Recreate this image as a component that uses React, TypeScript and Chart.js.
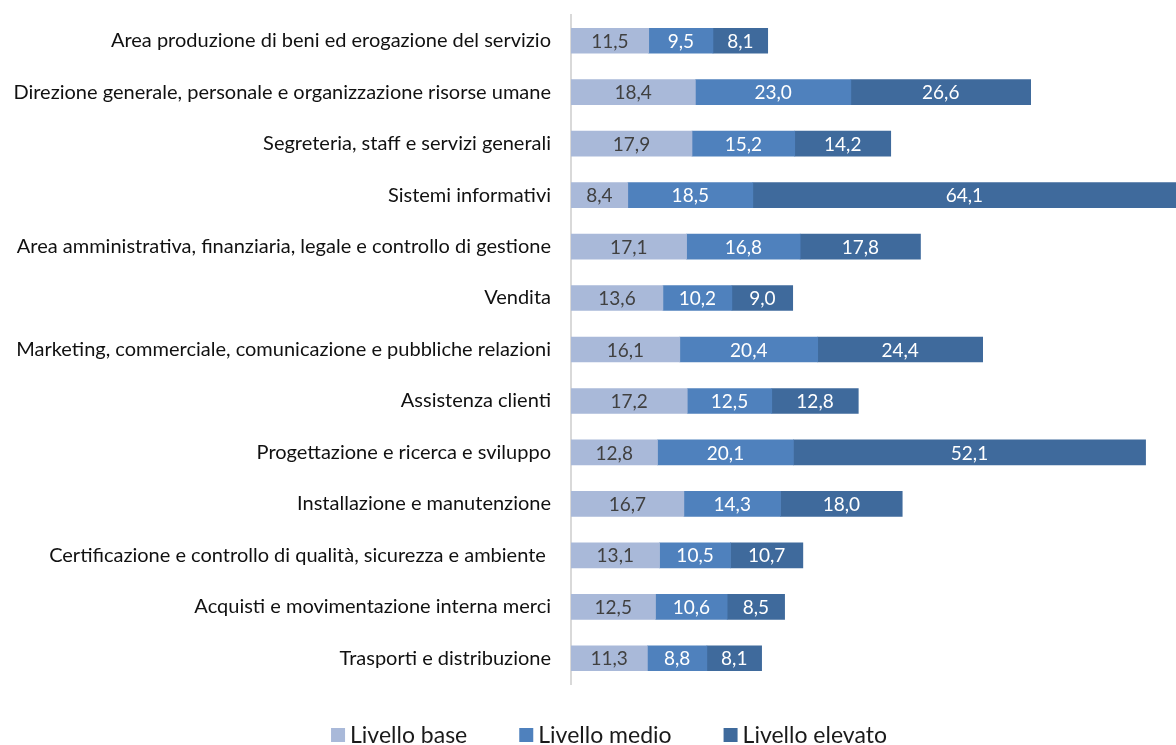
import React, { useEffect, useRef } from "react";
import { Chart, registerables } from "chart.js";

Chart.register(...registerables);

const categories = [
  "Area produzione di beni ed erogazione del servizio",
  "Direzione generale, personale e organizzazione risorse umane",
  "Segreteria, staff e servizi generali",
  "Sistemi informativi",
  "Area amministrativa, finanziaria, legale e controllo di gestione",
  "Vendita",
  "Marketing, commerciale, comunicazione e pubbliche relazioni",
  "Assistenza clienti",
  "Progettazione e ricerca e sviluppo",
  "Installazione e manutenzione",
  "Certificazione e controllo di qualità, sicurezza e ambiente ",
  "Acquisti e movimentazione interna merci",
  "Trasporti e distribuzione",
];

const livelloBase = [11.5, 18.4, 17.9, 8.4, 17.1, 13.6, 16.1, 17.2, 12.8, 16.7, 13.1, 12.5, 11.3];
const livelloMedio = [9.5, 23.0, 15.2, 18.5, 16.8, 10.2, 20.4, 12.5, 20.1, 14.3, 10.5, 10.6, 8.8];
const livelloElevato = [8.1, 26.6, 14.2, 64.1, 17.8, 9.0, 24.4, 12.8, 52.1, 18.0, 10.7, 8.5, 8.1];

const seriesNames = ["Livello base", "Livello medio", "Livello elevato"];
const seriesColors = ["#A9B9D9", "#4F81BD", "#3F6A9C"];
const labelColors = ["#404040", "#FFFFFF", "#FFFFFF"];

const FONT = "Lato, 'Open Sans', sans-serif";

const dataLabelPlugin = {
  id: "dataLabels",
  afterDatasetsDraw(chart: any) {
    const ctx = chart.ctx;
    const area = chart.chartArea;
    ctx.save();
    ctx.beginPath();
    ctx.rect(area.left, area.top, area.right - area.left, area.bottom - area.top);
    ctx.clip();
    ctx.font = `19px ${FONT}`;
    ctx.textAlign = "center";
    ctx.textBaseline = "middle";
    chart.data.datasets.forEach((ds: any, di: number) => {
      const meta = chart.getDatasetMeta(di);
      meta.data.forEach((bar: any, i: number) => {
        const v = ds.data[i];
        const left = Math.min(bar.base, bar.x);
        const right = Math.min(Math.max(bar.base, bar.x), area.right);
        const cx = (left + right) / 2;
        ctx.fillStyle = labelColors[di];
        ctx.fillText(v.toFixed(1).replace(".", ","), cx, bar.y + 1);
      });
    });
    ctx.restore();
  },
};

const legendPlugin = {
  id: "customLegend",
  afterDraw(chart: any) {
    const ctx = chart.ctx;
    ctx.save();
    ctx.font = `23px ${FONT}`;
    ctx.textBaseline = "middle";
    const box = 14;
    const gapBoxText = 5;
    const gapItems = 52;
    const widths = seriesNames.map((n) => box + gapBoxText + ctx.measureText(n).width);
    const total = widths.reduce((a, b) => a + b, 0) + gapItems * (widths.length - 1);
    let x = 609 - total / 2;
    const y = 735;
    seriesNames.forEach((n, i) => {
      ctx.fillStyle = seriesColors[i];
      ctx.fillRect(x, y - box / 2, box, box);
      ctx.fillStyle = "#1a1a1a";
      ctx.textAlign = "left";
      ctx.fillText(n, x + box + gapBoxText, y + 1);
      x += widths[i] + gapItems;
    });
    ctx.restore();
  },
};

export default function App() {
  const ref = useRef<HTMLCanvasElement>(null);

  useEffect(() => {
    if (!ref.current) return;
    const values = [livelloBase, livelloMedio, livelloElevato];
    const chart = new Chart(ref.current, {
      type: "bar",
      data: {
        labels: categories,
        datasets: seriesNames.map((name, i) => ({
          label: name,
          data: values[i],
          backgroundColor: seriesColors[i],
          borderWidth: 0,
          barThickness: 25,
        })),
      },
      options: {
        indexAxis: "y",
        animation: false,
        responsive: false,
        maintainAspectRatio: false,
        layout: { padding: { top: 15, bottom: 61, left: 0, right: 0 } },
        plugins: {
          legend: { display: false },
          tooltip: { enabled: false },
        },
        scales: {
          x: {
            stacked: true,
            display: false,
            min: 0,
            max: 89.5,
          },
          y: {
            stacked: true,
            grid: { display: false, drawTicks: false },
            border: { display: true, color: "#D9D9D9", width: 2 },
            ticks: {
              padding: 20,
              color: "#111111",
              font: { family: FONT, size: 20 },
              autoSkip: false,
            },
            afterFit(scale: any) {
              scale.width = 571;
              scale.paddingTop = 0;
              scale.paddingBottom = 0;
            },
          },
        },
      },
      plugins: [dataLabelPlugin, legendPlugin],
    });
    return () => chart.destroy();
  }, []);

  return (
    <div style={{ position: "fixed", left: 0, top: 0, width: 1176, height: 745, background: "#fff" }}>
      <canvas ref={ref} width={1176} height={745} style={{ width: 1176, height: 745 }} />
    </div>
  );
}
